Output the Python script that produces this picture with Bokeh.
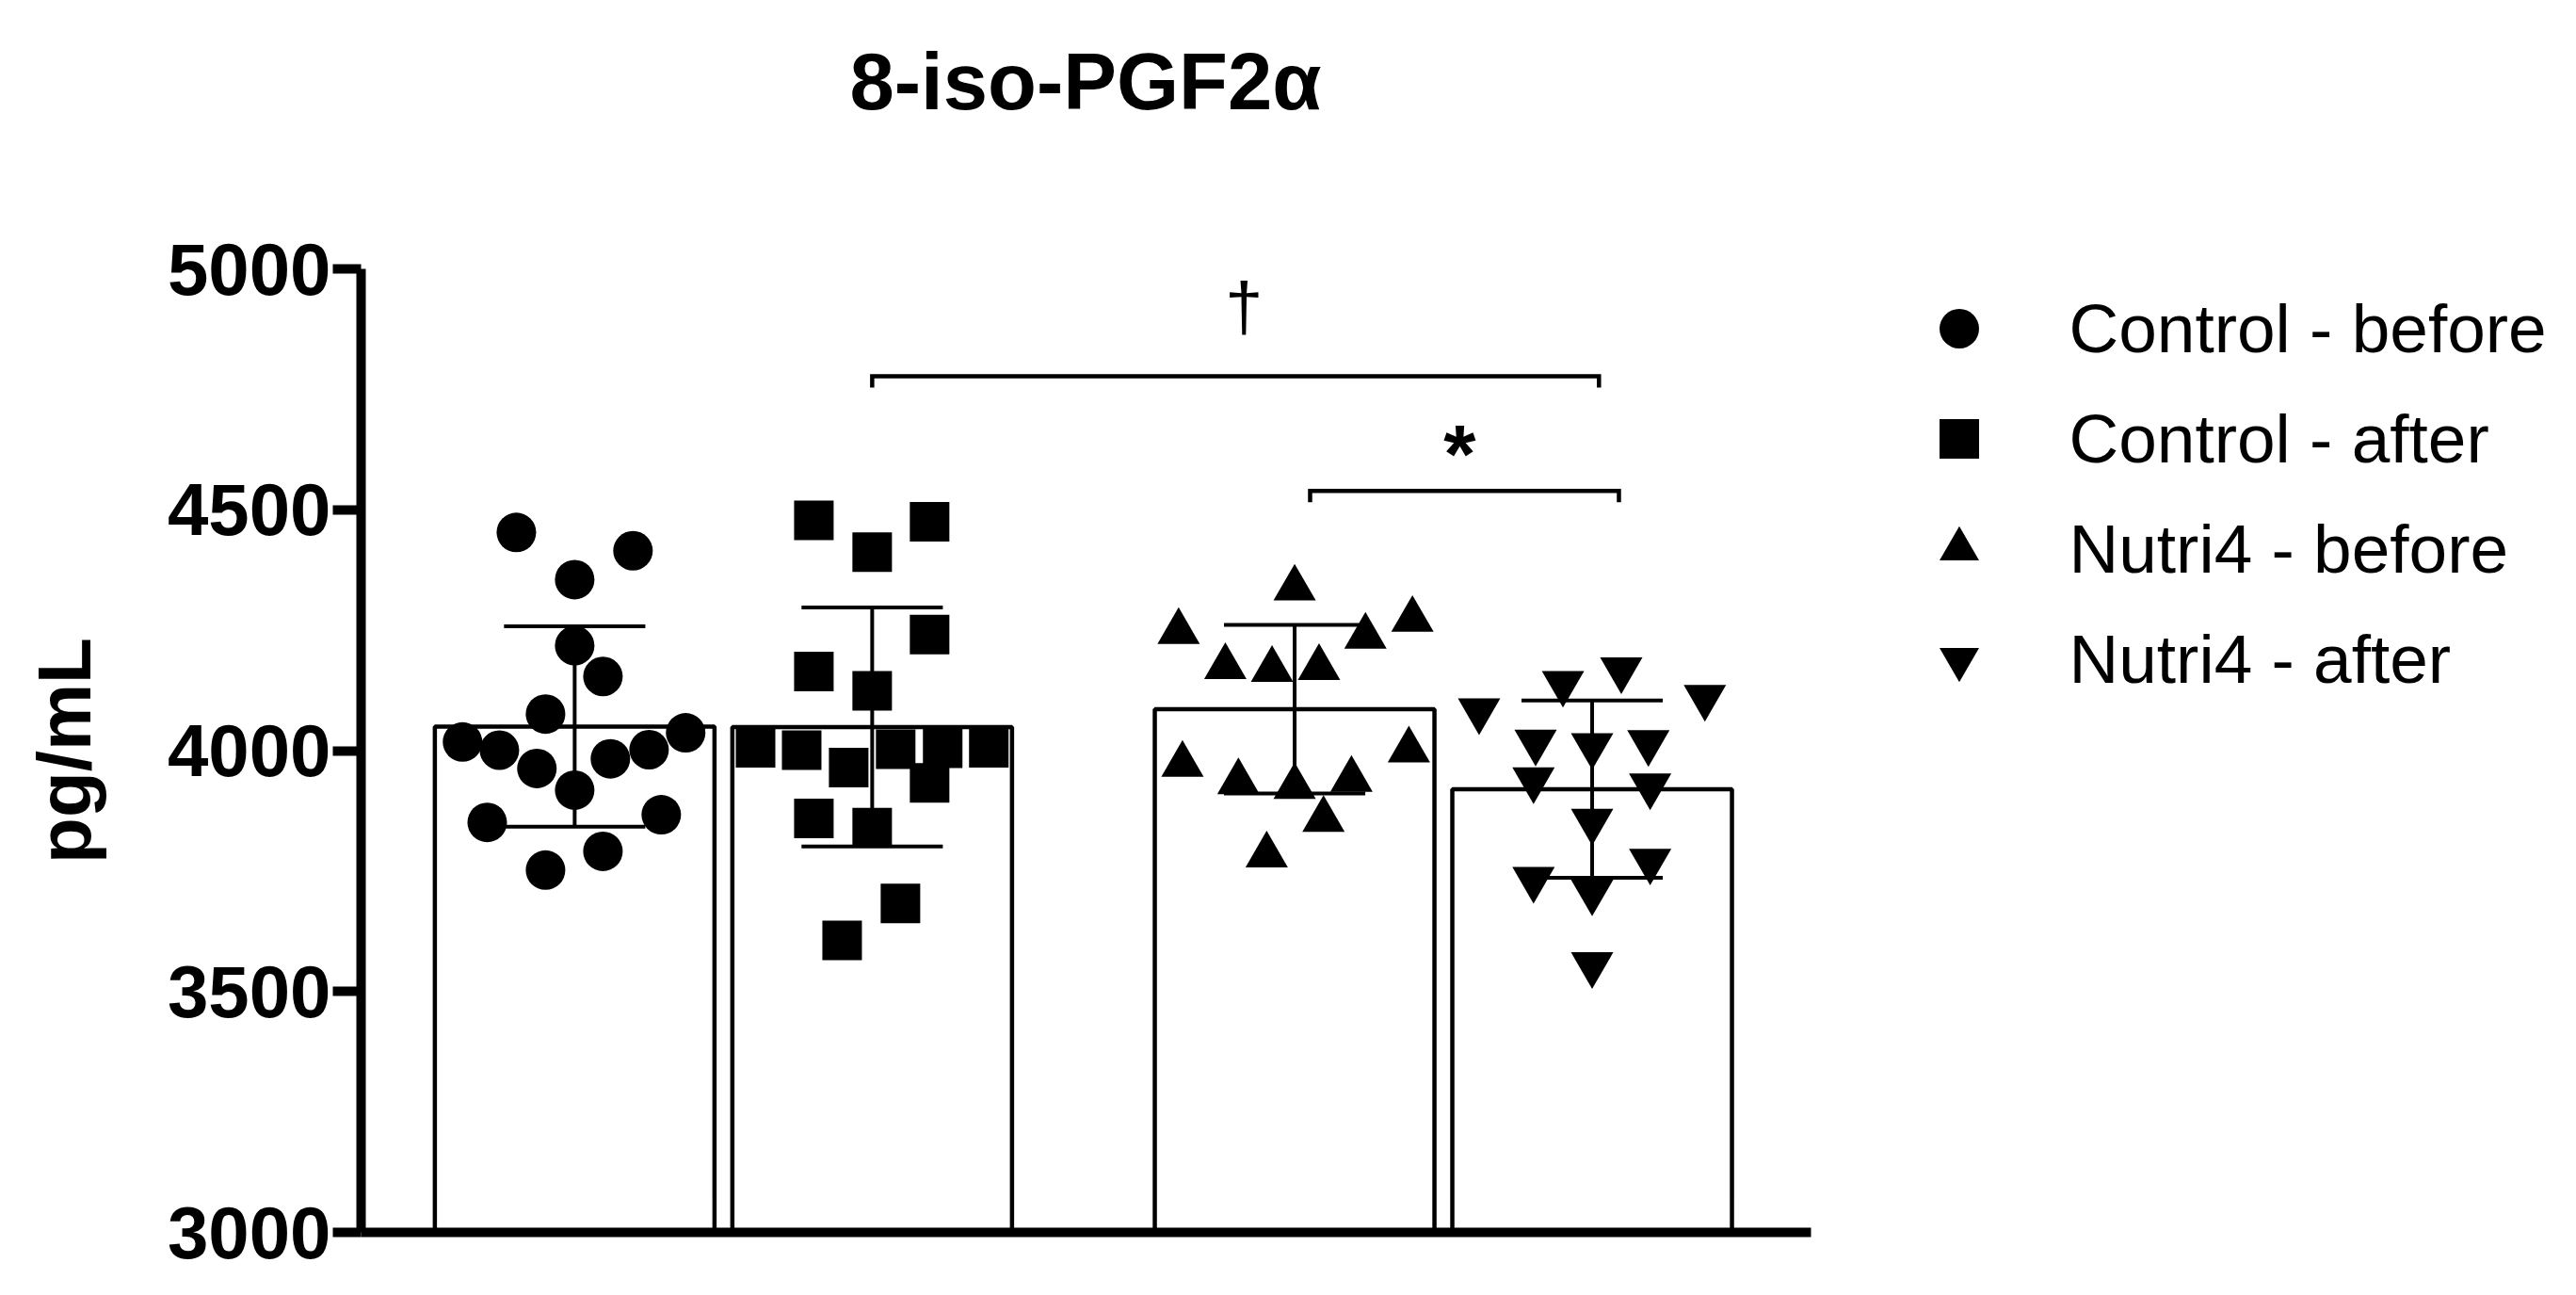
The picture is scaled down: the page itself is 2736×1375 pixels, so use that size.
from bokeh.plotting import figure
from bokeh.layouts import column
from bokeh.models import FixedTicker, Legend, LegendItem, Label, Range1d, ColumnDataSource
from bokeh.embed import file_html
from bokeh.resources import INLINE

# ---------------- data ----------------
groups = ["Control - before", "Control - after", "Nutri4 - before", "Nutri4 - after"]
markers = ["circle", "square", "triangle", "inverted_triangle"]
means = [4050, 4049, 4086, 3920]
sds = [208, 248, 175, 184]

ctrl_before = [4453, 4415, 4355, 4218, 4154, 4076, 4018, 4001, 3963, 3918, 3983, 4002, 4037,
               3851, 3867, 3791, 3752]
ctrl_before_dx = [-0.196, 0.196, 0.0, 0.0, 0.095, -0.098, -0.377, -0.253, -0.127, 0.0, 0.120,
                  0.250, 0.373, -0.294, 0.291, 0.095, -0.098]

ctrl_after = [4478, 4475, 4412, 4241, 4164, 4124, 4006, 4001, 3965, 4003, 4005, 4006, 3933,
              3859, 3840, 3683, 3606]
ctrl_after_dx = [-0.196, 0.193, 0.0, 0.193, -0.196, 0.0, -0.392, -0.237, -0.079, 0.079, 0.237,
                 0.392, 0.193, -0.196, 0.0, 0.095, -0.101]

nutri_before = [4337, 4247, 4272, 4237, 4174, 4168, 4172, 3971, 4001, 3935, 3925, 3940, 3857, 3783]
nutri_before_dx = [0.0, -0.390, 0.396, 0.238, -0.233, -0.076, 0.082, -0.377, 0.384, -0.189, 0.0,
                   0.191, 0.097, -0.094]

nutri_after = [4083, 4140, 4168, 4111, 4018, 4011, 4017, 3940, 3927, 3854, 3771, 3733, 3707, 3556]
nutri_after_dx = [-0.380, -0.098, 0.098, 0.379, -0.190, 0.0, 0.189, -0.197, 0.195, 0.0, 0.195,
                  -0.197, 0.0, 0.0]

y_ticks = [3000, 3500, 4000, 4500, 5000]
title_text = "8-iso-PGF2\u03b1"
y_label = "pg/mL"

sig_labels = ["\u2020", "*"]
sig_x0 = [2.0, 3.472]
sig_x1 = [4.443, 4.510]
sig_y = [4777, 4539]

# ---------------- layout ----------------
group_pos = [1.0, 2.0, 3.42, 4.42]
FONT = "Liberation Sans"
W = 2720
LEFT = 383
TITLE_H = 225
H = 1138
X0, XAXIS_END, X1 = 0.282, 5.155, 7.678
Y0, Y1 = 3000, 5000

# --- title strip (own small figure, no axes; x in pixels) ---
pt = figure(width=W, height=TITLE_H, x_range=Range1d(LEFT, W), y_range=Range1d(0, TITLE_H),
            output_backend="svg", toolbar_location=None, x_axis_type=None, y_axis_type=None,
            min_border_left=LEFT, min_border_right=0, min_border_top=0, min_border_bottom=0)
pt.xgrid.visible = False
pt.ygrid.visible = False
pt.outline_line_color = None
pt.background_fill_color = "white"
pt.border_fill_color = "white"
pt.add_layout(Label(x=902, y=139, text=title_text, text_align="left",
                    text_baseline="alphabetic", text_font=FONT, text_font_size="85px",
                    text_font_style="bold", text_color="black"))

# --- main chart ---
p = figure(width=W, height=H, x_range=Range1d(X0, X1), y_range=Range1d(Y0, Y1),
           output_backend="svg", toolbar_location=None,
           min_border_left=LEFT, min_border_right=0, min_border_top=60, min_border_bottom=55)
p.xgrid.visible = False
p.ygrid.visible = False
p.outline_line_color = None
p.background_fill_color = "white"
p.border_fill_color = "white"

# x axis: only the line
p.xaxis.bounds = (X0, XAXIS_END)
p.xaxis.ticker = FixedTicker(ticks=[])
p.xaxis.major_tick_line_color = None
p.xaxis.minor_tick_line_color = None
p.xaxis.major_label_text_font_size = "0px"
p.xaxis.axis_line_width = 10
p.xaxis.axis_line_color = "black"

# y axis
p.yaxis.ticker = FixedTicker(ticks=y_ticks)
p.yaxis.axis_line_width = 10
p.yaxis.major_tick_line_width = 10
p.yaxis.major_tick_out = 30
p.yaxis.major_tick_in = 0
p.yaxis.minor_tick_line_color = None
p.yaxis.major_label_text_font = FONT
p.yaxis.major_label_text_font_style = "bold"
p.yaxis.major_label_text_font_size = "78px"
p.yaxis.major_label_text_color = "black"
p.yaxis.major_label_standoff = 2
p.yaxis.axis_label = y_label
p.yaxis.axis_label_text_font = FONT
p.yaxis.axis_label_text_font_style = "bold"
p.yaxis.axis_label_text_font_size = "80px"
p.yaxis.axis_label_text_color = "black"
p.yaxis.axis_label_standoff = 62

# bars
p.vbar(x=group_pos, top=means, bottom=3000, width=0.94, fill_color="white",
       line_color="black", line_width=4.5)

# error bars
hi = [m + s for m, s in zip(means, sds)]
lo = [m - s for m, s in zip(means, sds)]
cap = 0.2375
p.segment(x0=group_pos, y0=lo, x1=group_pos, y1=hi, line_color="black", line_width=4)
p.segment(x0=[g - cap for g in group_pos], y0=hi, x1=[g + cap for g in group_pos], y1=hi,
          line_color="black", line_width=4)
p.segment(x0=[g - cap for g in group_pos], y0=lo, x1=[g + cap for g in group_pos], y1=lo,
          line_color="black", line_width=4)

# points
series = [ctrl_before, ctrl_after, nutri_before, nutri_after]
offsets = [ctrl_before_dx, ctrl_after_dx, nutri_before_dx, nutri_after_dx]
sizes = [42, 42, 45, 45]
renderers = []
for vals, dxs, pos, mk, sz in zip(series, offsets, group_pos, markers, sizes):
    src = ColumnDataSource(dict(x=[pos + d for d in dxs], y=vals))
    r = p.scatter("x", "y", source=src, marker=mk, size=sz, fill_color="black",
                  line_color="black", line_width=0)
    renderers.append(r)

# significance brackets
tick_len = 23.5
for x0, x1, y in zip(sig_x0, sig_x1, sig_y):
    p.line(x=[x0, x0, x1, x1], y=[y - tick_len, y, y, y - tick_len], line_color="black",
           line_width=4.5, line_join="miter")

p.add_layout(Label(x=3.25, y=4923, text=sig_labels[0], text_align="center",
                   text_baseline="alphabetic", text_font=FONT, text_font_size="72px",
                   text_color="black"))
p.add_layout(Label(x=3.975, y=4617, text=sig_labels[1], text_align="center",
                   text_baseline="alphabetic", text_font=FONT, text_font_size="88px",
                   text_font_style="bold", text_color="black"))

# legend
legend = Legend(items=[LegendItem(label=g, renderers=[r]) for g, r in zip(groups, renderers)],
                location=(1644.5, 556), orientation="vertical",
                label_text_font=FONT, label_text_font_size="73px", label_text_color="black",
                glyph_width=105, glyph_height=105, label_standoff=65, spacing=12,
                padding=0, margin=0, border_line_color=None, background_fill_alpha=0)
p.add_layout(legend, "center")

layout = column(pt, p, spacing=0)
open("out.html", "w").write(file_html(layout, INLINE))
